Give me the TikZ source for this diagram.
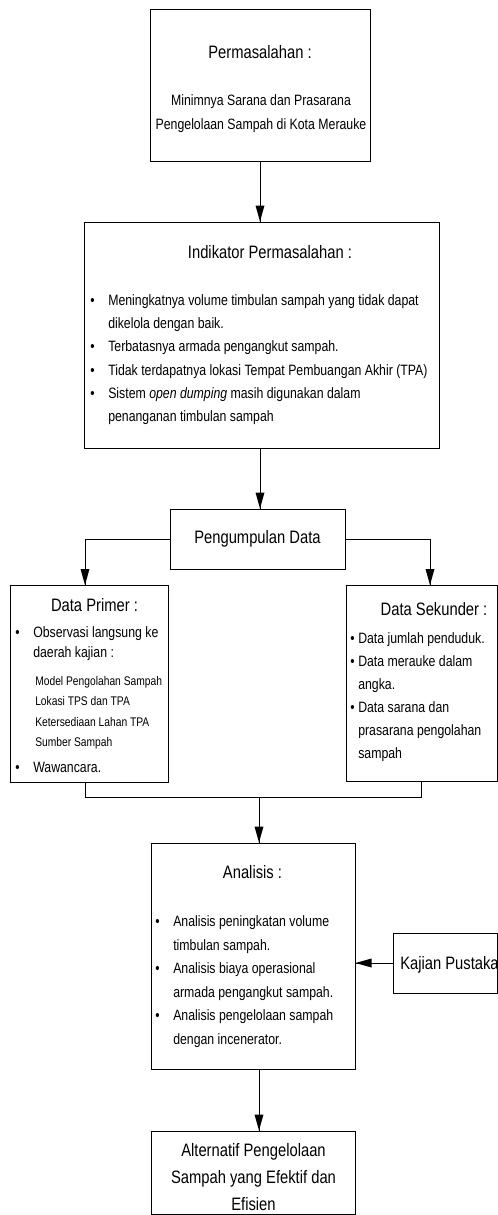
\documentclass[tikz,border=0pt]{standalone}
\usepackage{fontspec}
\setmainfont[FakeStretch=0.82]{Liberation Sans}
\usetikzlibrary{fit}

\newcommand{\isi}{\fontsize{11.25}{17.5}\selectfont}
\newcommand{\judul}{\fontsize{13.5}{20}\selectfont}
\newcommand{\rinci}{\fontsize{9.4}{15.4}\selectfont}
\newcommand{\tb}{\makebox[13.5pt][l]{\textbullet}}
\newcommand{\sj}{\hspace*{13.5pt}}

\begin{document}
\begin{tikzpicture}[x=0.75pt,y=0.75pt,yscale=-1,xscale=1,
  kotak/.style={draw, line width=0.75pt, inner sep=0pt},
  teks/.style={inner sep=0pt, align=left}]
	\useasboundingbox (0,0) rectangle (498,1215);

	%Shape: Rectangle [Permasalahan]
	\node [kotak, fit={(150,9) (370,161)}] (perm) {};
	%Shape: Rectangle [Indikator]
	\node [kotak, fit={(84,222) (439,448)}] (indik) {};
	%Shape: Rectangle [Pengumpulan Data]
	\node [kotak, fit={(170,509) (345,569)}] (kump) {};
	%Shape: Rectangle [Data Primer]
	\node [kotak, fit={(10,585) (168,782)}] (prim) {};
	%Shape: Rectangle [Data Sekunder]
	\node [kotak, fit={(346,585) (497,781)}] (sek) {};
	%Shape: Rectangle [Analisis]
	\node [kotak, fit={(151,843) (355,1069)}] (anal) {};
	%Shape: Rectangle [Kajian Pustaka]
	\node [kotak, fit={(393,933) (497,993)}] (kaji) {};
	%Shape: Rectangle [Alternatif]
	\node [kotak, fit={(151,1131) (355,1214)}] (alt) {};

	\coordinate (pA) at (85,585);
	\coordinate (sA) at (430,585);
	\coordinate (pB) at (85,782);
	\coordinate (sB) at (421,781);
	\coordinate (gab) at (259,797);

	%Straight Lines [Permasalahan - Indikator]
	\draw [line width=0.75pt] (perm.south) -- (perm.south |- indik.north) ;
	\draw [shift={(perm.south |- indik.north)}, rotate = 270] [fill=black][line width=0.08] [draw opacity=0] (16,-4.5) -- (0,0) -- (16,4.5) -- cycle ;
	%Straight Lines [Indikator - Pengumpulan]
	\draw [line width=0.75pt] (perm.south |- indik.south) -- (perm.south |- kump.north) ;
	\draw [shift={(perm.south |- kump.north)}, rotate = 270] [fill=black][line width=0.08] [draw opacity=0] (16,-4.5) -- (0,0) -- (16,4.5) -- cycle ;
	%Straight Lines [Pengumpulan - Primer]
	\draw [line width=0.75pt] (kump.west) -| (pA) ;
	\draw [shift={(pA)}, rotate = 270] [fill=black][line width=0.08] [draw opacity=0] (16,-4.5) -- (0,0) -- (16,4.5) -- cycle ;
	%Straight Lines [Pengumpulan - Sekunder]
	\draw [line width=0.75pt] (kump.east) -| (sA) ;
	\draw [shift={(sA)}, rotate = 270] [fill=black][line width=0.08] [draw opacity=0] (16,-4.5) -- (0,0) -- (16,4.5) -- cycle ;
	%Straight Lines [Primer, Sekunder - Analisis]
	\draw [line width=0.75pt] (pB) |- (gab) -| (sB) ;
	\draw [line width=0.75pt] (gab) -- (gab |- anal.north) ;
	\draw [shift={(gab |- anal.north)}, rotate = 270] [fill=black][line width=0.08] [draw opacity=0] (16,-4.5) -- (0,0) -- (16,4.5) -- cycle ;
	%Straight Lines [Kajian - Analisis]
	\draw [line width=0.75pt] (kaji.west) -- (kaji.west -| anal.east) ;
	\draw [shift={(kaji.west -| anal.east)}, rotate = 0] [fill=black][line width=0.08] [draw opacity=0] (16,-4.5) -- (0,0) -- (16,4.5) -- cycle ;
	%Straight Lines [Analisis - Alternatif]
	\draw [line width=0.75pt] (gab |- anal.south) -- (gab |- alt.north) ;
	\draw [shift={(gab |- alt.north)}, rotate = 270] [fill=black][line width=0.08] [draw opacity=0] (16,-4.5) -- (0,0) -- (16,4.5) -- cycle ;

	% Text Node (base = last line)
	\node [teks, anchor=base, font=\judul] (permJ) at (260,58) {Permasalahan :};
	% Text Node
	\node [teks, anchor=base, align=center, font=\fontsize{11.25}{18}\selectfont] (permI) at (261,129) {Minimnya Sarana dan Prasarana\\Pengelolaan Sampah di Kota Merauke};
	% Text Node
	\node [teks, anchor=base, font=\judul] (indJ) at (270,258) {Indikator Permasalahan :};
	% Text Node
	\node [teks, anchor=base west, font=\isi] (indI) at (90,421.7) {\tb Meningkatnya volume timbulan sampah yang tidak dapat\\\sj dikelola dengan baik.\\\tb Terbatasnya armada pengangkut sampah.\\\tb Tidak terdapatnya lokasi Tempat Pembuangan Akhir (TPA)\\\tb Sistem \textit{open dumping} masih digunakan dalam\\\sj penanganan timbulan sampah};
	% Text Node
	\node [teks, font=\judul] (kumpT) at (kump) {Pengumpulan Data};
	% Text Node
	\node [teks, anchor=base, font=\judul] (primJ) at (94.5,611) {Data Primer :};
	% Text Node
	\node [teks, anchor=base west, font=\fontsize{11.25}{15}\selectfont] (primI) at (15,657) {\tb Observasi langsung ke\\\sj daerah kajian :};
	% Text Node
	\node [teks, anchor=base west, font=\rinci] (primR) at (35,746.6) {Model Pengolahan Sampah\\Lokasi TPS dan TPA\\Ketersediaan Lahan TPA\\Sumber Sampah};
	% Text Node
	\node [teks, anchor=base west, font=\isi] (primW) at (15,772) {\tb Wawancara.};
	% Text Node
	\node [teks, anchor=base, font=\judul] (sekJ) at (434,615) {Data Sekunder :};
	% Text Node
	\node [teks, anchor=base west, font=\fontsize{11.25}{17.25}\selectfont] (sekI) at (350,758) {\makebox[6pt][l]{\textbullet}Data jumlah penduduk.\\\makebox[6pt][l]{\textbullet}Data merauke dalam\\\hspace*{6pt}angka.\\\makebox[6pt][l]{\textbullet}Data sarana dan\\\hspace*{6pt}prasarana pengolahan\\\hspace*{6pt}sampah};
	% Text Node
	\node [teks, anchor=base, font=\judul] (analJ) at (252.5,878) {Analisis :};
	% Text Node
	\node [teks, anchor=base west, font=\fontsize{11.25}{17.6}\selectfont] (analI) at (155,1044.3) {\tb Analisis peningkatan volume\\\sj timbulan sampah.\\\tb Analisis biaya operasional\\\sj armada pengangkut sampah.\\\tb Analisis pengelolaan sampah\\\sj dengan incenerator.};
	% Text Node
	\node [teks, anchor=base west, font=\judul] (kajiT) at (400,969) {Kajian Pustaka};
	% Text Node
	\node [teks, anchor=base, align=center, font=\judul] (altT) at (253.5,1210.3) {Alternatif Pengelolaan\\Sampah yang Efektif dan\\Efisien};

\end{tikzpicture}
\end{document}
